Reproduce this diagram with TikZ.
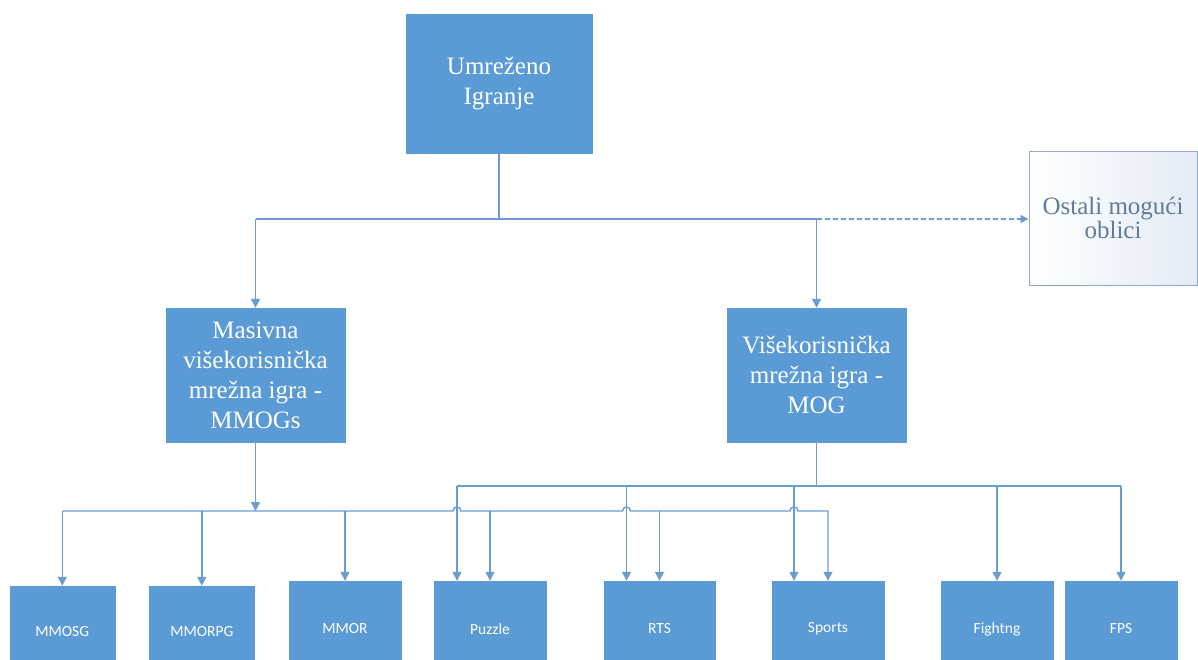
\documentclass[tikz,border=0pt]{standalone}
\usepackage{fontspec}
\setmainfont{Liberation Serif}
\newfontfamily\calibfont{Carlito}
\usetikzlibrary{arrows.meta,calc}
\definecolor{boxblue}{HTML}{5B9BD5}
\definecolor{lineblue}{HTML}{6A9CD2}
\definecolor{ostborder}{HTML}{8DA9C9}
\definecolor{ostfill}{HTML}{E4EBF4}
\definecolor{osttext}{HTML}{5F7D99}
\begin{document}
\begin{tikzpicture}[x=1pt,y=-1pt,
  bigbox/.style={fill=boxblue, draw=boxblue, text=white, align=center, inner sep=0pt,
    font=\fontsize{25}{30}\selectfont},
  ostbox/.style={left color=white, right color=ostfill, draw=ostborder, line width=1pt,
    text=osttext, align=center, inner sep=0pt, font=\fontsize{25}{24}\selectfont},
  smallbox/.style={fill=boxblue, draw=boxblue, text=white, inner sep=0pt,
    font=\calibfont\fontsize{15.5}{18}\selectfont},
  conn/.style={draw=lineblue, line width=1.4pt},
  arr/.style={conn, -{Triangle[width=9pt,length=9pt]}},
  dasharr/.style={conn, dash pattern=on 5pt off 3pt, -{Triangle[width=8pt,length=8pt]}},
]
\useasboundingbox (0,0) rectangle (1198,659);
\clip (0,0) rectangle (1198,659);

% main boxes
\node[bigbox, minimum width=186pt, minimum height=139pt] (top) at (499,83.5) {Umreženo\\Igranje};
\node[bigbox, minimum width=179pt, minimum height=134pt] (mas) at (255.5,375) {Masivna\\višekorisnička\\mrežna igra -\\MMOGs};
\node[bigbox, minimum width=179pt, minimum height=134pt] (mog) at (816.5,375) {Višekorisnička\\mrežna igra -\\MOG};
\node[ostbox, minimum width=168pt, minimum height=134pt] (ost) at (1113,218) {Ostali mogući\\oblici};

% bottom boxes
\node[smallbox, minimum width=105pt, minimum height=91pt] (mmosg) at (62.3,631.5) {MMOSG};
\node[smallbox, minimum width=105pt, minimum height=91pt] (mmorpg) at (201.8,631.5) {MMORPG};
\node[smallbox, minimum width=112pt, minimum height=96pt] (mmor) at (345,629) {MMOR};
\node[smallbox, minimum width=112pt, minimum height=96pt] (puzzle) at (490,629) {Puzzle};
\node[smallbox, minimum width=111pt, minimum height=96pt] (rts) at (659.5,629) {RTS};
\node[smallbox, minimum width=112pt, minimum height=96pt] (sports) at (828,629) {Sports};
\node[smallbox, minimum width=112pt, minimum height=96pt] (fightng) at (997,629) {Fightng};
\node[smallbox, minimum width=112pt, minimum height=96pt] (fps) at (1121,629) {FPS};

% bus coordinates
\coordinate (busT) at (499,219);
\coordinate (busA) at (255,511);
\coordinate (busB) at (816,486);
\coordinate (hp) at ($(puzzle.north)+(-33,0)$);
\coordinate (hr) at ($(rts.north)+(-33,0)$);
\coordinate (hs) at ($(sports.north)+(-34,0)$);

% top level
\draw[conn] (top.south) -- (busT);
\draw[conn] (busT -| mas.north) -- (busT -| mog.north);
\draw[arr] (busT -| mas.north) -- (mas.north);
\draw[arr] (busT -| mog.north) -- (mog.north);
\draw[dasharr] (busT -| mog.north) -- (ost.west |- busT);

% MMOG bus (lower) with hops
\draw[arr] (mas.south) -- (mas.south |- busA);
\draw[arr] (mmosg.north |- busA)
  -- ($(hp |- busA)+(-4,0)$) .. controls +(0,-5.3) and +(0,-5.3) .. ($(hp |- busA)+(4,0)$)
  -- ($(hr |- busA)+(-4,0)$) .. controls +(0,-5.3) and +(0,-5.3) .. ($(hr |- busA)+(4,0)$)
  -- ($(hs |- busA)+(-4,0)$) .. controls +(0,-5.3) and +(0,-5.3) .. ($(hs |- busA)+(4,0)$)
  -- (sports.north |- busA) -- (sports.north);
\draw[arr] (mmosg.north |- busA) -- (mmosg.north);
\draw[arr] (mmorpg.north |- busA) -- (mmorpg.north);
\draw[arr] (mmor.north |- busA) -- (mmor.north);
\draw[arr] (puzzle.north |- busA) -- (puzzle.north);
\draw[arr] (rts.north |- busA) -- (rts.north);

% MOG bus (upper)
\draw[conn] (mog.south) -- (mog.south |- busB);
\draw[conn] (hp |- busB) -- (fps.north |- busB);
\draw[arr] (hp |- busB) -- (hp);
\draw[arr] (hr |- busB) -- (hr);
\draw[arr] (hs |- busB) -- (hs);
\draw[arr] (fightng.north |- busB) -- (fightng.north);
\draw[arr] (fps.north |- busB) -- (fps.north);
\end{tikzpicture}
\end{document}
